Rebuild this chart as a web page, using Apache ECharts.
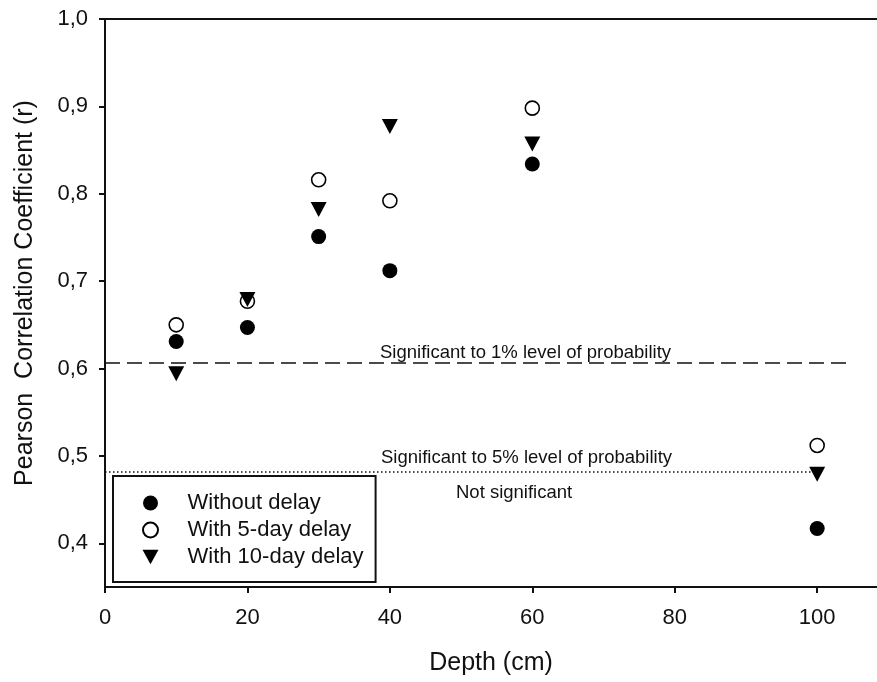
<!DOCTYPE html>
<html>
<head>
<meta charset="utf-8">
<script src="https://cdn.jsdelivr.net/npm/echarts@6/dist/echarts.min.js"></script>
<style>
  html, body { margin: 0; padding: 0; background: #fff; }
  #chart { width: 877px; height: 682px; }
</style>
</head>
<body>
<div id="chart"></div>
<script>
// depth (cm)
const depths = [10, 20, 30, 40, 60, 100];
const withoutDelay = [0.631, 0.647, 0.751, 0.712, 0.834, 0.417];
const delay5 = [0.650, 0.677, 0.816, 0.792, 0.898, 0.512];
const delay10 = [0.594, 0.679, 0.782, 0.877, 0.857, 0.479];

const xTicks = [0, 20, 40, 60, 80, 100];
const yTicks = [0.4, 0.5, 0.6, 0.7, 0.8, 0.9, 1.0];

// significance thresholds: [value, x end]
const sig1 = [0.607, 104.3];
const sig5 = [0.482, 100];

const font = 'Arial, "Liberation Sans", sans-serif';
const ink = '#111';
const downTri = 'path://M0,0 L10,0 L5,9 Z';

const chart = echarts.init(document.getElementById('chart'));

const pairs = (ys) => depths.map((d, i) => [d, ys[i]]);

const option = {
    backgroundColor: '#fff',
    animation: false,
    textStyle: { fontFamily: font },
    grid: { left: 105, top: 19, right: 0, bottom: 95 },
    legend: {
        orient: 'vertical',
        left: 113,
        top: 476,
        padding: [16, 12, 14, 29],
        itemWidth: 16,
        itemHeight: 15,
        itemGap: 5,
        borderColor: ink,
        borderWidth: 2,
        borderRadius: 0,
        textStyle: { fontSize: 22, lineHeight: 22, color: ink, fontFamily: font, padding: [0, 0, 0, 24] },
        data: ['Without delay', 'With 5-day delay', 'With 10-day delay']
    },
    xAxis: [{
        type: 'value',
        min: 0,
        max: 108.4,
        name: 'Depth (cm)',
        nameLocation: 'middle',
        nameGap: 64,
        nameTextStyle: { fontSize: 25, color: ink, fontFamily: font },
        axisLine: { lineStyle: { color: ink, width: 2 } },
        axisTick: { show: true, inside: false, length: 6, lineStyle: { color: ink, width: 2 }, customValues: xTicks },
        axisLabel: { fontSize: 22, color: ink, margin: 20, customValues: xTicks },
        splitLine: { show: false }
    }, {
        type: 'value',
        position: 'top',
        min: 0,
        max: 108.4,
        axisLine: { show: true, lineStyle: { color: ink, width: 2 } },
        axisTick: { show: false },
        axisLabel: { show: false },
        splitLine: { show: false }
    }],
    yAxis: {
        type: 'value',
        min: 0.35,
        max: 1.0,
        name: 'Pearson  Correlation Coefficient (r)',
        nameLocation: 'middle',
        nameGap: 67,
        nameTextStyle: { fontSize: 25, color: ink, fontFamily: font, padding: [0, 0, 0, 20] },
        axisLine: { show: true, lineStyle: { color: ink, width: 2 } },
        axisTick: { show: true, inside: false, length: 6, lineStyle: { color: ink, width: 2 }, customValues: yTicks },
        axisLabel: {
            fontSize: 22, color: ink, margin: 17, customValues: yTicks,
            formatter: (v) => v.toFixed(1).replace('.', ',')
        },
        splitLine: { show: false }
    },
    series: [{
        name: 'Without delay',
        type: 'scatter',
        symbol: 'circle',
        symbolSize: 15,
        itemStyle: { color: '#000', opacity: 1 },
        data: pairs(withoutDelay),
        markLine: {
            silent: true,
            symbol: 'none',
            label: { show: false },
            data: [
                [{ coord: [0, sig1[0]], lineStyle: { type: [15, 7], color: ink, width: 1.6, opacity: 1 } }, { coord: [sig1[1], sig1[0]] }],
                [{ coord: [0, sig5[0]], lineStyle: { type: [1.5, 2.5], color: ink, width: 1.6, opacity: 1 } }, { coord: [sig5[1], sig5[0]] }]
            ]
        },
        z: 3
    }, {
        name: 'With 5-day delay',
        type: 'scatter',
        symbol: 'circle',
        symbolSize: 14,
        itemStyle: { color: '#fff', borderColor: '#000', borderWidth: 1.6, opacity: 1 },
        data: pairs(delay5),
        z: 2
    }, {
        name: 'With 10-day delay',
        type: 'scatter',
        symbol: downTri,
        symbolSize: [16, 15],
        itemStyle: { color: '#000', opacity: 1 },
        data: pairs(delay10),
        z: 4
    }],
    graphic: [
        { type: 'text', left: 380, top: 343, style: { text: 'Significant to 1% level of probability', fontSize: 18.5, fill: ink, fontFamily: font } },
        { type: 'text', left: 381, top: 448, style: { text: 'Significant to 5% level of probability', fontSize: 18.5, fill: ink, fontFamily: font } },
        { type: 'text', left: 456, top: 483, style: { text: 'Not significant', fontSize: 18.5, fill: ink, fontFamily: font } }
    ]
};

chart.setOption(option);
</script>
</body>
</html>
